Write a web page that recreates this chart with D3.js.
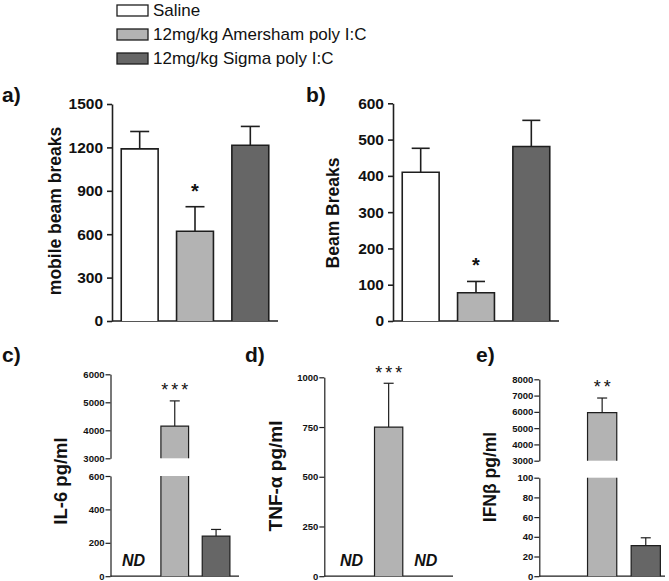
<!DOCTYPE html>
<html><head><meta charset="utf-8">
<script src="https://cdn.jsdelivr.net/npm/d3@7"></script>
<style>
body{margin:0;background:#fff}
svg{display:block}
text{font-family:"Liberation Sans",Arial,Helvetica,sans-serif}
</style></head>
<body><svg id="chart" width="669" height="581"></svg>
<script>
// ---------- data ----------
const categories = ["Saline", "12mg/kg Amersham poly I:C", "12mg/kg Sigma poly I:C"];
const fills = ["#ffffff", "#b3b3b3", "#666666"];

const mobileMean = [1190, 620, 1215];
const mobileSem  = [120, 170, 130];
const mobileSig  = ["", "*", ""];
const mobileTicks = [0, 300, 600, 900, 1200, 1500];

const beamMean = [410, 78, 481];
const beamSem  = [66, 31, 72];
const beamSig  = ["", "*", ""];
const beamTicks = [0, 100, 200, 300, 400, 500, 600];

const il6Mean = [null, 4150, 240];
const il6Sem  = [null, 900, 40];
const il6Sig  = ["", "***", ""];
const il6ND   = [true, false, false];
const il6TicksLow  = [0, 200, 400, 600];
const il6TicksHigh = [3000, 4000, 5000, 6000];

const tnfMean = [null, 750, null];
const tnfSem  = [null, 220, null];
const tnfSig  = ["", "***", ""];
const tnfND   = [true, false, true];
const tnfTicks = [0, 250, 500, 750, 1000];

const ifnMean = [null, 5950, 31];
const ifnSem  = [null, 900, 8];
const ifnSig  = ["", "**", ""];
const ifnND   = [false, false, false];
const ifnTicksLow  = [0, 20, 40, 60, 80, 100];
const ifnTicksHigh = [3000, 4000, 5000, 6000, 7000, 8000];

// ---------- drawing ----------
const FONT = "'Liberation Sans', Arial, Helvetica, sans-serif";
const svg = d3.select("#chart");
const ink = "#1e1e1e";

// legend
const legend = svg.append("g");
categories.forEach((c, i) => {
  const y = 5 + i * 24;
  legend.append("rect").attr("x", 117).attr("y", y).attr("width", 31).attr("height", 11)
    .attr("fill", fills[i]).attr("stroke", ink).attr("stroke-width", 1.3);
  legend.append("text").attr("x", 153).attr("y", y + 11).attr("font-size", 17)
    .attr("font-family", FONT).attr("fill", "#111").text(c);
});

function drawPanel(o) {
  const g = svg.append("g");
  const x = d3.scaleBand().domain(categories).range([o.x0, o.x1])
    .paddingInner(o.padIn).paddingOuter(o.padOut);
  const segs = o.segments.map(s => ({...s, scale: d3.scaleLinear().domain(s.domain).range(s.range)}));
  const yOf = v => { let s = segs[0]; segs.forEach(t => { if (v >= t.domain[0]) s = t; }); return s.scale(v); };
  const yBase = segs[0].scale(0);

  // axes
  segs.forEach(s => {
    const ax = g.append("g").attr("transform", `translate(${o.x0},0)`)
      .call(d3.axisLeft(s.scale).tickValues(s.ticks).tickFormat(d3.format("d"))
        .tickSize(o.tick).tickSizeOuter(0).tickPadding(o.tickPad));
    ax.select(".domain").attr("stroke", ink).attr("stroke-width", o.sw);
    ax.selectAll(".tick line").attr("stroke", ink).attr("stroke-width", o.sw);
    ax.selectAll(".tick text").attr("font-size", o.tickFont).attr("font-weight", "bold")
      .attr("font-family", FONT).attr("fill", "#111");
  });
  g.append("line").attr("x1", o.x0).attr("x2", o.x1).attr("y1", yBase).attr("y2", yBase)
    .attr("stroke", ink).attr("stroke-width", o.sw);

  // bars
  categories.forEach((c, i) => {
    const v = o.means[i];
    const bx = x(c), bw = x.bandwidth(), cx = bx + bw / 2;
    if (v == null) {
      if (o.nd && o.nd[i]) {
        g.append("text").attr("x", cx).attr("y", yBase - 10).attr("text-anchor", "middle")
          .attr("font-family", FONT).attr("font-size", 16).attr("font-weight", "bold")
          .attr("font-style", "italic").attr("fill", "#111").text("ND");
      }
      return;
    }
    segs.forEach((s, si) => {
      if (v <= s.domain[0] && si > 0) return;
      const top = Math.min(v, s.domain[1]);
      const yb = s.scale(s.domain[0]), yt = s.scale(top);
      g.append("rect").attr("x", bx).attr("y", yt).attr("width", bw).attr("height", yb - yt).attr("fill", fills[i]);
      const ends = v <= s.domain[1];
      const p = d3.path();
      p.moveTo(bx, yb); p.lineTo(bx, yt);
      if (ends) p.lineTo(bx + bw, yt); else p.moveTo(bx + bw, yt);
      p.lineTo(bx + bw, yb);
      g.append("path").attr("d", p.toString()).attr("fill", "none").attr("stroke", ink).attr("stroke-width", o.sw);
    });
    // error bar
    const ym = yOf(v), ye = yOf(v + o.sems[i]);
    g.append("line").attr("x1", cx).attr("x2", cx).attr("y1", ym).attr("y2", ye).attr("stroke", ink).attr("stroke-width", o.sw);
    g.append("line").attr("x1", cx - o.cap / 2).attr("x2", cx + o.cap / 2).attr("y1", ye).attr("y2", ye).attr("stroke", ink).attr("stroke-width", o.sw);
    if (o.sig[i]) {
      g.append("text").attr("x", cx + o.sigSpace / 2).attr("y", ye - o.sigOff).attr("text-anchor", "middle")
        .attr("font-family", FONT).attr("font-size", o.sigFont).attr("font-weight", o.sigWeight)
        .attr("letter-spacing", o.sigSpace).attr("fill", "#111").text(o.sig[i]);
    }
  });

  // labels
  g.append("text").attr("transform", `translate(${o.labelX},${o.labelY}) rotate(-90)`)
    .attr("text-anchor", "middle").attr("font-family", FONT).attr("font-size", o.labelFont)
    .attr("font-weight", "bold").attr("fill", "#111").text(o.label);
  g.append("text").attr("x", o.letterX).attr("y", o.letterY).attr("font-size", 21).attr("font-weight", "bold")
    .attr("font-family", FONT).attr("fill", "#111").text(o.letter);
}

drawPanel({letter: "a)", letterX: 2, letterY: 102, label: "mobile beam breaks", labelX: 61, labelY: 211, labelFont: 17.5,
  x0: 112, x1: 278, padIn: 0.333, padOut: 0.167,
  segments: [{domain: [0, 1500], range: [321, 104], ticks: mobileTicks}],
  means: mobileMean, sems: mobileSem, sig: mobileSig,
  tick: 5, tickPad: 4, tickFont: 15.5, sw: 1.6, cap: 19, sigFont: 20, sigWeight: "bold", sigSpace: 0, sigOff: 9});

drawPanel({letter: "b)", letterX: 306, letterY: 102, label: "Beam Breaks", labelX: 339, labelY: 213, labelFont: 17.5,
  x0: 393, x1: 559, padIn: 0.333, padOut: 0.167,
  segments: [{domain: [0, 600], range: [321, 103.3], ticks: beamTicks}],
  means: beamMean, sems: beamSem, sig: beamSig,
  tick: 5, tickPad: 4, tickFont: 15.5, sw: 1.6, cap: 18, sigFont: 20, sigWeight: "bold", sigSpace: 0, sigOff: 9});

drawPanel({letter: "c)", letterX: 2, letterY: 362, label: "IL-6 pg/ml", labelX: 67, labelY: 481, labelFont: 18.5,
  x0: 110.5, x1: 239, padIn: 0.33, padOut: 0.22,
  segments: [{domain: [0, 600], range: [576.2, 476], ticks: il6TicksLow},
             {domain: [3000, 6000], range: [458.3, 374.3], ticks: il6TicksHigh}],
  means: il6Mean, sems: il6Sem, sig: il6Sig, nd: il6ND,
  tick: 5, tickPad: 1, tickFont: 9.5, sw: 1.2, cap: 10, sigFont: 18, sigWeight: "normal", sigSpace: 3, sigOff: 5});

drawPanel({letter: "d)", letterX: 245, letterY: 362, label: "TNF-α pg/ml", labelX: 281.5, labelY: 476, labelFont: 19,
  x0: 324.3, x1: 453, padIn: 0.24, padOut: 0.35,
  segments: [{domain: [0, 1000], range: [576.2, 377.3], ticks: tnfTicks}],
  means: tnfMean, sems: tnfSem, sig: tnfSig, nd: tnfND,
  tick: 5, tickPad: 1, tickFont: 9.5, sw: 1.2, cap: 10, sigFont: 18, sigWeight: "normal", sigSpace: 3, sigOff: 4});

drawPanel({letter: "e)", letterX: 476, letterY: 362, label: "IFNβ pg/ml", labelX: 496, labelY: 477, labelFont: 17.5,
  x0: 539.3, x1: 665, padIn: 0.33, padOut: 0.106,
  segments: [{domain: [0, 100], range: [576.2, 477.7], ticks: ifnTicksLow},
             {domain: [3000, 8000], range: [460.7, 379.3], ticks: ifnTicksHigh}],
  means: ifnMean, sems: ifnSem, sig: ifnSig, nd: ifnND,
  tick: 5, tickPad: 1, tickFont: 9.5, sw: 1.2, cap: 10, sigFont: 18, sigWeight: "normal", sigSpace: 3, sigOff: 5});
</script></body></html>
